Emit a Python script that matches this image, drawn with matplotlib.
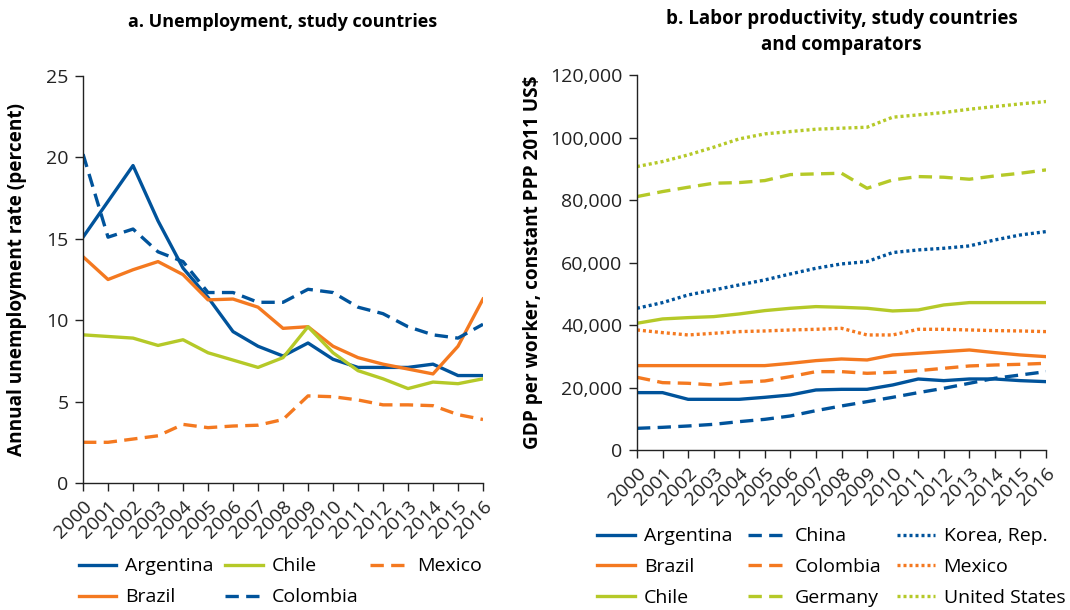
import matplotlib
matplotlib.use("Agg")
import matplotlib.pyplot as plt
from matplotlib.ticker import FuncFormatter

plt.rcParams['font.family'] = ['Open Sans', 'DejaVu Sans']

BLUE = '#00539b'
ORANGE = '#f47920'
GREEN = '#b5c928'

years = list(range(2000, 2017))

# panel a: unemployment (percent)
u_argentina = [15.1, 17.3, 19.5, 16.1, 13.2, 11.4, 9.3, 8.4, 7.8, 8.6, 7.6, 7.1, 7.1, 7.1, 7.3, 6.6, 6.6]
u_brazil = [13.9, 12.5, 13.1, 13.6, 12.8, 11.25, 11.3, 10.8, 9.5, 9.6, 8.4, 7.7, 7.3, 7.0, 6.7, 8.4, 11.3]
u_chile = [9.1, 9.0, 8.9, 8.45, 8.8, 8.0, 7.55, 7.1, 7.7, 9.6, 8.0, 6.9, 6.4, 5.8, 6.2, 6.1, 6.4]
u_colombia = [20.2, 15.1, 15.6, 14.2, 13.6, 11.7, 11.7, 11.1, 11.1, 11.9, 11.7, 10.8, 10.4, 9.6, 9.1, 8.9, 9.75]
u_mexico = [2.5, 2.5, 2.7, 2.9, 3.6, 3.4, 3.5, 3.55, 3.9, 5.35, 5.3, 5.1, 4.8, 4.8, 4.75, 4.2, 3.9]

# panel b: GDP per worker, constant PPP 2011 US$
p_argentina = [18370, 18370, 16230, 16230, 16230, 16870, 17620, 19220, 19430, 19430, 20820, 22740, 22210, 22740, 22740, 22210, 21890]
p_brazil = [27020, 27020, 27020, 27020, 27020, 27020, 27760, 28620, 29150, 28830, 30430, 30970, 31500, 32030, 31180, 30430, 29900]
p_chile = [40580, 41970, 42390, 42710, 43570, 44640, 45380, 45920, 45700, 45380, 44530, 44850, 46450, 47200, 47200, 47200, 47200]
p_china = [6940, 7260, 7690, 8220, 9080, 9820, 10890, 12600, 14100, 15480, 16870, 18370, 19750, 21360, 22960, 24030, 25090]
p_colombia = [23280, 21570, 21360, 20820, 21680, 22100, 23490, 25090, 25090, 24560, 24880, 25410, 26160, 26910, 27230, 27440, 27760]
p_germany = [81150, 82760, 84140, 85430, 85640, 86280, 88200, 88420, 88630, 83820, 86490, 87560, 87350, 86710, 87770, 88630, 89700]
p_korea = [45380, 47200, 49650, 51250, 52860, 54460, 56380, 58200, 59590, 60330, 63220, 64070, 64600, 65350, 67270, 68870, 69940]
p_mexico = [38440, 37590, 36840, 37370, 37910, 38120, 38440, 38650, 38970, 36840, 36840, 38650, 38650, 38440, 38230, 38120, 37910]
p_usa = [90770, 92370, 94500, 96960, 99630, 101230, 101980, 102730, 103050, 103370, 106570, 107320, 108070, 109130, 109990, 110840, 111590]

DASH = (0, (4, 2.2))
DOT = (0, (0.9, 0.9))
LW = 2.4

fig = plt.figure(figsize=(10.7, 6.1), dpi=100)
ax1 = fig.add_axes([0.0776, 0.2082, 0.3738, 0.6672])
ax2 = fig.add_axes([0.5953, 0.2623, 0.3823, 0.6143])


def style_axis(ax):
    for s in ['top', 'right']:
        ax.spines[s].set_visible(False)
    for s in ['left', 'bottom']:
        ax.spines[s].set_color('#222222')
        ax.spines[s].set_linewidth(1.0)
    ax.tick_params(direction='out', length=5.5, width=1, colors='#222222', labelsize=14, pad=5)
    ax.set_xlim(2000, 2016)
    ax.set_xticks(years)
    ax.set_xticklabels([str(y) for y in years], rotation=45, ha='right', rotation_mode='anchor')


leg_kw = dict(frameon=False, fontsize=14, handlelength=1.95, labelspacing=0.66,
              handletextpad=0.45, ncol=3, loc='upper left')

# panel a
ax1.plot(years, u_argentina, color=BLUE, lw=LW, label='Argentina')
ax1.plot(years, u_brazil, color=ORANGE, lw=LW, label='Brazil')
ax1.plot(years, u_chile, color=GREEN, lw=LW, label='Chile')
ax1.plot(years, u_colombia, color=BLUE, lw=LW, ls=DASH, label='Colombia')
ax1.plot(years, u_mexico, color=ORANGE, lw=LW, ls=DASH, label='Mexico')
style_axis(ax1)
ax1.set_ylim(0, 25)
ax1.set_yticks([0, 5, 10, 15, 20, 25])
ax1.set_ylabel('Annual unemployment rate (percent)', fontsize=13.7, fontweight='bold', labelpad=14)
ax1.set_title('a. Unemployment, study countries', fontsize=13, fontweight='bold', pad=35)
ax1.legend(bbox_to_anchor=(-0.055, -0.14), columnspacing=0.6, **leg_kw)

# panel b
ax2.plot(years, p_argentina, color=BLUE, lw=LW, label='Argentina')
ax2.plot(years, p_brazil, color=ORANGE, lw=LW, label='Brazil')
ax2.plot(years, p_chile, color=GREEN, lw=LW, label='Chile')
ax2.plot(years, p_china, color=BLUE, lw=LW, ls=DASH, label='China')
ax2.plot(years, p_colombia, color=ORANGE, lw=LW, ls=DASH, label='Colombia')
ax2.plot(years, p_germany, color=GREEN, lw=LW, ls=DASH, label='Germany')
ax2.plot(years, p_korea, color=BLUE, lw=LW, ls=DOT, label='Korea, Rep.')
ax2.plot(years, p_mexico, color=ORANGE, lw=LW, ls=DOT, label='Mexico')
ax2.plot(years, p_usa, color=GREEN, lw=LW, ls=DOT, label='United States')
style_axis(ax2)
ax2.set_ylim(0, 120000)
ax2.set_yticks(range(0, 120001, 20000))
ax2.yaxis.set_major_formatter(FuncFormatter(lambda v, p: f'{int(v):,}'))
ax2.set_ylabel('GDP per worker, constant PPP 2011 US$', fontsize=13.7, fontweight='bold', labelpad=5)
ax2.set_title('b. Labor productivity, study countries\nand comparators', fontsize=13.5,
              fontweight='bold', pad=18, linespacing=1.4)
ax2.legend(bbox_to_anchor=(-0.14, -0.16), columnspacing=0.8, **leg_kw)

fig.savefig('out.png', dpi=100)
